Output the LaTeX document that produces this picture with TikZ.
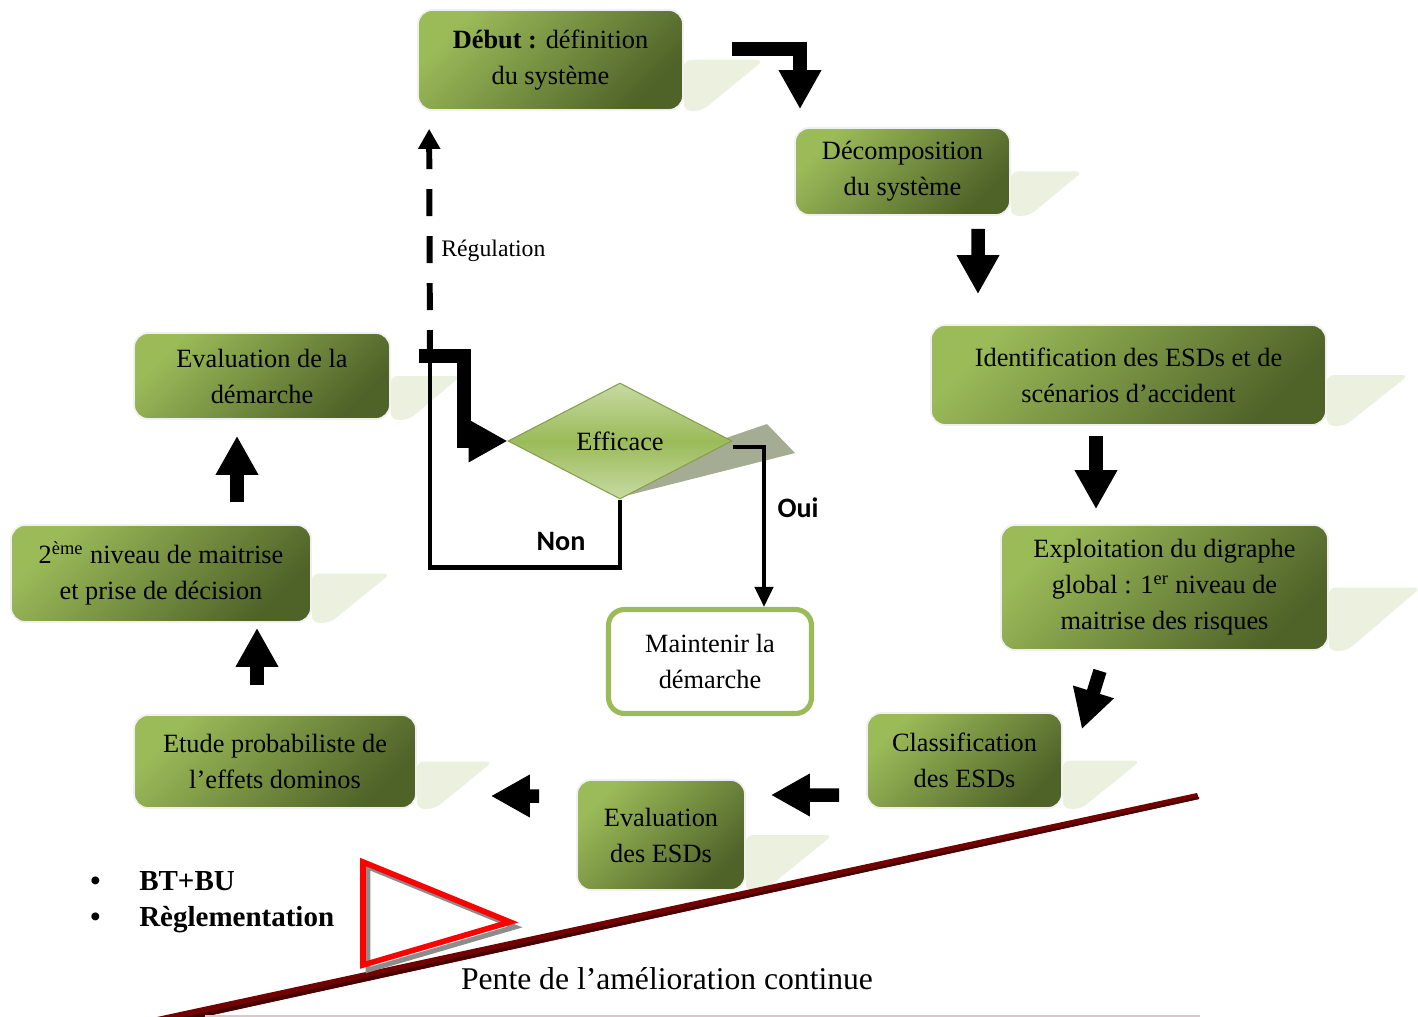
\documentclass[tikz,border=0pt]{standalone}
\usepackage{fontspec}
\setmainfont{Liberation Serif}
\newfontfamily\labelfont{Carlito}
\usetikzlibrary{arrows.meta, shapes.geometric, backgrounds}

\definecolor{gLight}{HTML}{9BBB59}
\definecolor{gDark}{HTML}{4F6228}
\definecolor{gShadow}{HTML}{EBF0DF}
\definecolor{gDiamShadow}{HTML}{A4AD93}
\definecolor{gDiamLight}{HTML}{C7DAA3}
\definecolor{rampRed}{HTML}{730000}
\definecolor{rampDark}{HTML}{480000}
\definecolor{pinkLine}{HTML}{DCC6CB}

\begin{document}
\begin{tikzpicture}[x=0.02cm, y=-0.02cm,
    stepbox/.style={rounded corners=8pt, draw=black!6, line width=1pt, top color=gLight, bottom color=gDark, shading angle=45, align=center, inner sep=0pt, font=\fontsize{15}{20.5}\selectfont},
    keepbox/.style={rounded corners=9pt, draw=gLight, line width=2.9pt, fill=white, align=center, inner sep=0pt, font=\fontsize{15}{20.5}\selectfont},
    decision/.style={diamond, draw=gLight!85!black, line width=0.6pt, top color=gDiamLight, bottom color=gDiamLight, middle color=gLight, minimum width=4.48cm, minimum height=2.32cm, inner sep=0pt, font=\fontsize{15}{18}\selectfont},
    bigarrow/.style={line width=0.27cm, line join=miter, -{Triangle[length=0.78cm, width=0.8cm]}},
    thinline/.style={line width=2.6pt},
    dashline/.style={line width=3.4pt, dash pattern=on 0.54cm off 0.4cm, -{Triangle[length=0.4cm, width=0.42cm]}},
    answer/.style={font=\labelfont\bfseries\fontsize{16}{18}\selectfont},
    bulletlist/.style={anchor=west, inner sep=0pt, align=left, font=\bfseries\fontsize{16.5}{20.5}\selectfont}
]
\useasboundingbox (0,0) rectangle (1418,1017);

% ramp
\fill[rampRed] (157,1017) -- (1197,793) -- (1199,799) -- (203,1017) -- cycle;
\fill[rampDark] (183,1017) -- (1199,797) -- (1199,799) -- (203,1017) -- cycle;
\draw[pinkLine, line width=1pt] (205,1016) -- (1200,1016);

% steps
\node[stepbox, minimum width=5.3cm, minimum height=2cm] (debut) at (550.5,60) {\textbf{Début :} définition\\du système};
\node[stepbox, minimum width=4.3cm, minimum height=1.74cm] (decomp) at (902.5,171.5) {Décomposition\\du système};
\node[stepbox, minimum width=7.9cm, minimum height=2cm] (ident) at (1128.5,375) {Identification des ESDs et de\\scénarios d’accident};
\node[stepbox, minimum width=6.54cm, minimum height=2.5cm] (exploit) at (1164.5,587.5) {Exploitation du digraphe\\global : 1\textsuperscript{er} niveau de\\maitrise des risques};
\node[stepbox, minimum width=3.9cm, minimum height=1.9cm] (classif) at (964.5,760.5) {Classification\\des ESDs};
\node[stepbox, minimum width=3.36cm, minimum height=2.2cm] (evalesd) at (661,835) {Evaluation\\des ESDs};
\node[stepbox, minimum width=5.64cm, minimum height=1.86cm] (etude) at (275,761.5) {Etude probabiliste de\\l’effets dominos};
\node[stepbox, minimum width=6cm, minimum height=1.94cm] (niveau2) at (161,573.5) {2\textsuperscript{ème} niveau de maitrise\\et prise de décision};
\node[stepbox, minimum width=5.12cm, minimum height=1.72cm] (evaldem) at (262,376) {Evaluation de la\\démarche};

\node[decision] (efficace) at (620,441) {Efficace};
\node[keepbox, minimum width=4.06cm, minimum height=2.08cm] (maintenir) at (710,661.5) {Maintenir la\\démarche};

% shadows
\begin{scope}[on background layer]
\foreach \n/\e in {debut/80, decomp/72, ident/82, exploit/92, classif/78, evalesd/87, etude/76, niveau2/79, evaldem/70}
    \fill[gShadow, rounded corners=4pt] (\n.east) -- ++(\e,0) -- ([shift={(18,0)}]\n.south east) -- (\n.south east) -- cycle;
\fill[gDiamShadow] (720,440) -- (767,424) -- (795,453) -- (617,498) -- cycle;
\end{scope}

% cycle arrows
\draw[bigarrow] ([shift={(48,-11)}]debut.east) -| ([shift={(-102.5,-18)}]decomp.north);
\draw[bigarrow] ([shift={(75.5,13)}]decomp.south) -- ([shift={(-150.5,-30)}]ident.north);
\draw[bigarrow] ([shift={(-32.5,10)}]ident.south) -- ([shift={(-68.5,-15)}]exploit.north);
\draw[bigarrow] ([shift={(-64.5,20)}]exploit.south) -- ([shift={(19,17)}]classif.north east);
\draw[bigarrow] ([shift={(-27,34.5)}]classif.west) -- ([shift={(25,-40)}]evalesd.east);
\draw[bigarrow] ([shift={(-37,-39)}]evalesd.west) -- ([shift={(74,34.5)}]etude.east);
\draw[bigarrow] ([shift={(-18,-29)}]etude.north) -- ([shift={(96,5)}]niveau2.south);
\draw[bigarrow] ([shift={(76,-22)}]niveau2.north) -- ([shift={(-25,16)}]evaldem.south);
\draw[bigarrow] ([shift={(28,-20)}]evaldem.east) -- ++(45,0) |- (efficace.west);

% decision
\coordinate (reg) at (430,357);
\draw[thinline] (efficace.south) -- ++(0,68) -| (reg);
\draw[dashline] (reg) -- ([shift={(12,18)}]debut.south west);
\draw[thinline, -{Triangle[length=0.4cm, width=0.36cm]}] ([shift={(0,6)}]efficace.east) -| ([shift={(54,0)}]maintenir.north);

\node[answer] (non) at (561,541) {Non};
\node[answer] (oui) at (798,508) {Oui};
\node[anchor=west, inner sep=0pt, font=\fontsize{13.5}{16}\selectfont] (regul) at (441,251) {Régulation};

% slope
\draw[gray!90, line width=2.8pt, line join=miter] (368,867) -- (515,927) -- (368,970) -- cycle;
\draw[red, line width=3.2pt, line join=miter] (363,862) -- (510,922) -- (363,965) -- cycle;

\node[bulletlist] (bullets) at (90,902) {\makebox[0.98cm][l]{\textbullet}BT+BU\\\makebox[0.98cm][l]{\textbullet}Règlementation};
\node[font=\fontsize{18}{21}\selectfont] (pente) at (667,979) {Pente de l’amélioration continue};
\end{tikzpicture}
\end{document}
